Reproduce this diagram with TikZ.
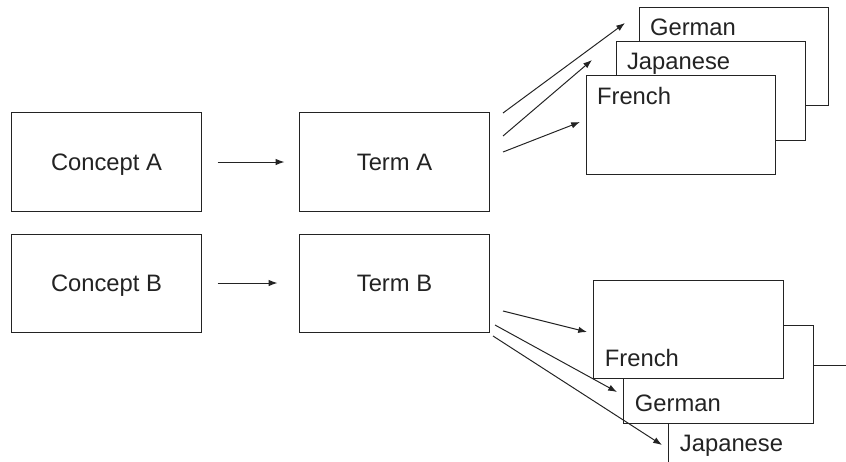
\documentclass[tikz,border=0pt]{standalone}
\usepackage{fontspec}
\setmainfont{Liberation Sans}
\usetikzlibrary{arrows.meta}

\definecolor{ink}{RGB}{35,35,35}

\begin{document}
\begin{tikzpicture}[x=0.025cm,y=-0.025cm,
    every node/.style={font=\fontsize{16.9}{20}\selectfont, text=ink},
    box/.style={draw=ink, line width=0.7pt, fill=white,
      minimum width=4.725cm, minimum height=2.45cm, text depth=0pt},
    toplang/.style={box, label={[anchor=north west, inner sep=0pt,
      xshift=0.27cm, yshift=-0.28cm]north west:#1}},
    botlang/.style={box, label={[anchor=base west, inner sep=0pt,
      xshift=0.28cm, yshift=0.3cm]south west:#1}},
    arr/.style={draw=ink, line width=0.7pt, -{Latex[length=2.2mm, width=1.6mm]}}]
  \useasboundingbox (0,0) rectangle (846,461);
  \clip (0,0) rectangle (846,461);

  \node[box] (cA) at (106.5,162) {Concept A};
  \node[box] (tA) at (394.5,162) {Term A};
  \node[box] (cB) at (106.5,283) {Concept B};
  \node[box] (tB) at (394.5,283) {Term B};

  % translations of term A, back to front
  \node[toplang=German] (deA) at (734,56.5) {};
  \node[toplang=Japanese] (jaA) at (711,91) {};
  \node[toplang=French] (frA) at (681,125) {};

  % translations of term B, back to front
  \node[botlang=Japanese] (jaB) at (763.5,414) {};
  \node[botlang=German] (deB) at (718.5,374) {};
  \node[botlang=French] (frB) at (688.5,329) {};

  \draw[arr, shorten <=0.4cm, shorten >=0.375cm] (cA) -- (tA);
  \draw[arr, shorten <=0.4cm, shorten >=0.55cm] (cB) -- (tB);

  % fan out from term A
  \coordinate (tA1) at (503,113);
  \coordinate (tA2) at (503,136);
  \coordinate (tA3) at (503,152);
  \coordinate (toDeA) at (625,23);
  \coordinate (toJaA) at (592,60);
  \coordinate (toFrA) at (580,122);
  \draw[arr] (tA1) -- (toDeA);
  \draw[arr] (tA2) -- (toJaA);
  \draw[arr] (tA3) -- (toFrA);

  % fan out from term B
  \coordinate (tB1) at (503,311);
  \coordinate (tB2) at (495,325);
  \coordinate (tB3) at (493,336);
  \coordinate (toFrB) at (587,332);
  \coordinate (toDeB) at (617,392);
  \coordinate (toJaB) at (662,445);
  \draw[arr] (tB1) -- (toFrB);
  \draw[arr] (tB2) -- (toDeB);
  \draw[arr] (tB3) -- (toJaB);
\end{tikzpicture}
\end{document}
